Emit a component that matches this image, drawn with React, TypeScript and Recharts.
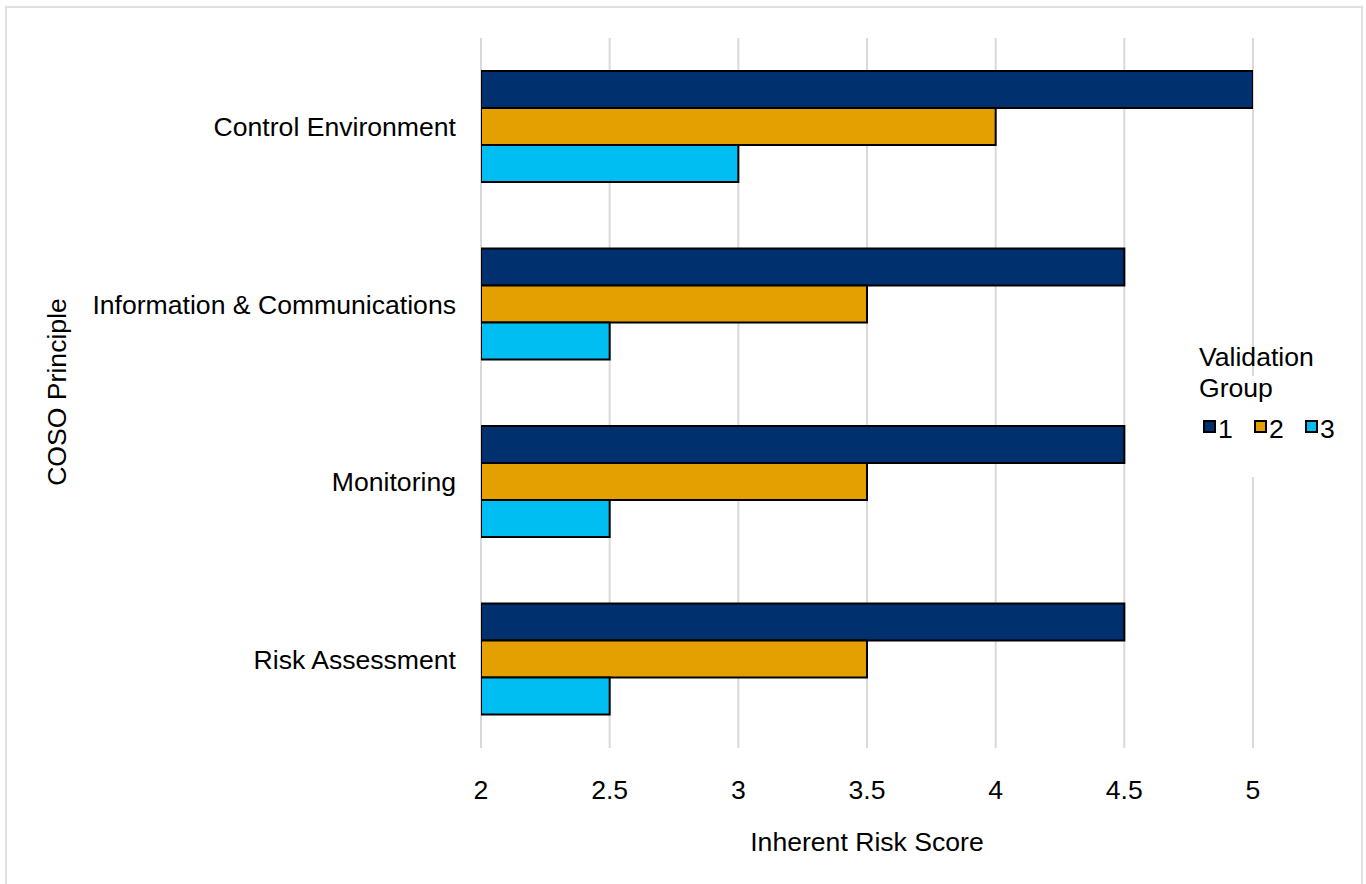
import React from 'react';
import { BarChart, Bar, XAxis, YAxis, CartesianGrid, Label } from 'recharts';

const categories = ['Control Environment', 'Information & Communications', 'Monitoring', 'Risk Assessment'];
const group1 = [5, 4.5, 4.5, 4.5];
const group2 = [4, 3.5, 3.5, 3.5];
const group3 = [3, 2.5, 2.5, 2.5];
const xTicks = [2, 2.5, 3, 3.5, 4, 4.5, 5];
const seriesNames = ['1', '2', '3'];
const seriesKeys = ['g1', 'g2', 'g3'];
const colors = ['#00306E', '#E3A000', '#00BEF2'];
const legendTitle = ['Validation', 'Group'];

const data = categories.map((c, i) => ({ name: c, g1: group1[i], g2: group2[i], g3: group3[i] }));

const FONT = '"Liberation Sans", Arial, sans-serif';
const FS = 26.6;

export default function App() {
  return (
    <div style={{ position: 'absolute', left: 0, top: 0, width: 1366, height: 884, overflow: 'hidden', background: '#fff', fontFamily: FONT }}>
      <div style={{ position: 'absolute', left: 5, top: 6, width: 1354, height: 900, border: '2px solid #e0e0e0' }} />
      <div style={{ position: 'absolute', left: 0, top: 0 }}>
        <BarChart
          width={1366}
          height={884}
          data={data}
          layout="vertical"
          margin={{ top: 38, right: 113, left: 0, bottom: 0 }}
          barSize={37}
          barGap={0}
          style={{ fontFamily: FONT }}
        >
          <CartesianGrid horizontal={false} stroke="#d9d9d9" strokeWidth={2} />
          <XAxis
            type="number"
            domain={[2, 5]}
            ticks={xTicks}
            allowDataOverflow
            axisLine={false}
            tickLine={false}
            tickSize={0}
            tickMargin={32}
            height={136}
            tick={{ fill: '#000', fontSize: FS, fontFamily: FONT }}
          >
            <Label value="Inherent Risk Score" position="insideBottom" offset={33} fill="#000" fontSize={FS} fontFamily={FONT} />
          </XAxis>
          <YAxis
            type="category"
            dataKey="name"
            width={481}
            axisLine={false}
            tickLine={false}
            tickSize={0}
            tickMargin={25}
            interval={0}
            tick={{ fill: '#000', fontSize: FS, fontFamily: FONT }}
          >
            <Label
              content={() => (
                <text x={66} y={392} transform="rotate(-90, 66, 392)" textAnchor="middle" fill="#000" fontSize={FS} fontFamily={FONT}>
                  COSO Principle
                </text>
              )}
            />
          </YAxis>
          {seriesKeys.map((k, i) => (
            <Bar key={k} dataKey={k} name={seriesNames[i]} fill={colors[i]} stroke="#000" strokeWidth={2} isAnimationActive={false} />
          ))}
        </BarChart>
      </div>
      <svg width={1366} height={884} style={{ position: 'absolute', left: 0, top: 0, pointerEvents: 'none' }}>
        <rect x={1180} y={376} width={150} height={101} fill="#fff" />
        <text x={1199} y={366} fontSize={FS} fontFamily={FONT} fill="#000">{legendTitle[0]}</text>
        <text x={1199} y={397} fontSize={FS} fontFamily={FONT} fill="#000">{legendTitle[1]}</text>
        {seriesNames.map((n, i) => (
          <g key={n}>
            <rect x={1204 + i * 51} y={421} width={11} height={11} fill={colors[i]} stroke="#000" strokeWidth={2} />
            <text x={1218 + i * 51} y={438} fontSize={FS} fontFamily={FONT} fill="#000">{n}</text>
          </g>
        ))}
      </svg>
    </div>
  );
}
